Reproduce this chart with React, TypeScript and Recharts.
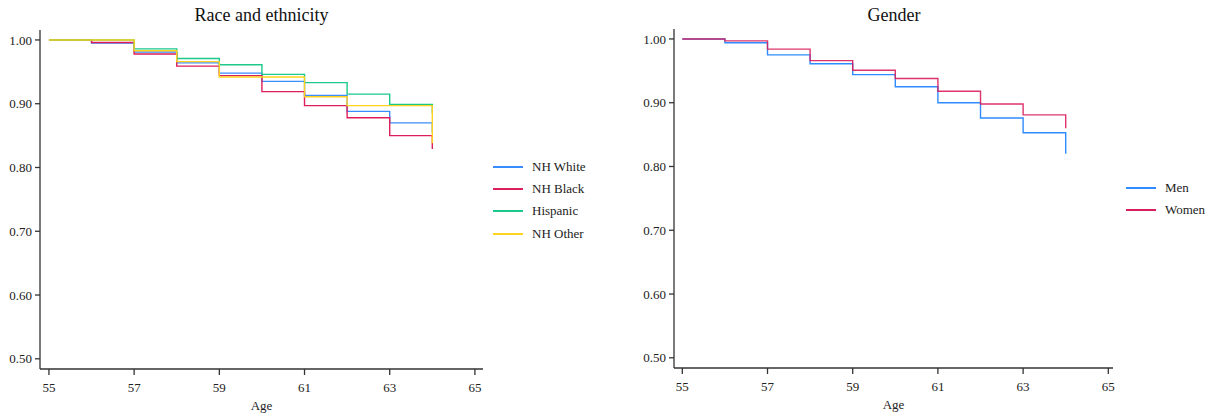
import React from "react";
import { LineChart, Line, XAxis, YAxis, Legend } from "recharts";

const ages = [55, 56, 57, 58, 59, 60, 61, 62, 63, 64];

const nhWhite = [1.0, 0.995, 0.981, 0.964, 0.948, 0.935, 0.913, 0.888, 0.87, 0.855];
const nhBlack = [1.0, 0.996, 0.978, 0.959, 0.944, 0.919, 0.897, 0.878, 0.85, 0.829];
const hispanic = [1.0, 1.0, 0.986, 0.971, 0.961, 0.946, 0.933, 0.915, 0.899, 0.885];
const nhOther = [1.0, 1.0, 0.983, 0.966, 0.942, 0.942, 0.911, 0.897, 0.897, 0.838];

const men = [1.0, 0.994, 0.975, 0.961, 0.944, 0.925, 0.9, 0.876, 0.853, 0.82];
const women = [1.0, 0.997, 0.984, 0.966, 0.951, 0.938, 0.918, 0.898, 0.881, 0.86];

const raceNames = ["NH White", "NH Black", "Hispanic", "NH Other"];
const genderNames = ["Men", "Women"];

const xTicks = [55, 57, 59, 61, 63, 65];
const yTicks = [0.5, 0.6, 0.7, 0.8, 0.9, 1.0];

const raceData = ages.map((age, i) => ({
  age,
  white: nhWhite[i],
  black: nhBlack[i],
  hispanic: hispanic[i],
  other: nhOther[i],
}));

const genderData = ages.map((age, i) => ({ age, men: men[i], women: women[i] }));

const FONT = '"Liberation Serif", "Times New Roman", Times, serif';
const AXIS = "#333";
const tickStyle = { fill: "#222", fontSize: 13, fontFamily: FONT, style: { fontFamily: FONT } };

function LegendBox({ payload, rowH, order }: any) {
  const items = [...(payload || [])].sort(
    (a: any, b: any) => order.indexOf(a.value) - order.indexOf(b.value)
  );
  return (
    <div style={{ fontFamily: FONT, fontSize: 13, color: "#222" }}>
      {items.map((p: any) => (
        <div key={p.value} style={{ display: "flex", alignItems: "center", height: rowH, fontFamily: FONT }}>
          <svg width={30} height={4} style={{ marginRight: 9 }}>
            <line x1={0} y1={2} x2={30} y2={2} stroke={p.color} strokeWidth={2} />
          </svg>
          <span style={{ fontFamily: FONT }}>{p.value}</span>
        </div>
      ))}
    </div>
  );
}

function Title({ text, center }: { text: string; center: number }) {
  return (
    <div
      style={{
        position: "absolute",
        left: center - 150,
        width: 300,
        top: 5.5,
        textAlign: "center",
        fontFamily: FONT,
        fontSize: 18,
        lineHeight: "18px",
        color: "#111",
      }}
    >
      {text}
    </div>
  );
}

function axes(domainX: [number, number], yWidth: number) {
  return [
    <XAxis
      key="x"
      dataKey="age"
      type="number"
      domain={domainX}
      ticks={xTicks}
      allowDataOverflow
      height={50}
      tickSize={6}
      tickMargin={8}
      tick={tickStyle}
      axisLine={{ stroke: AXIS, strokeWidth: 1.3 }}
      tickLine={{ stroke: AXIS, strokeWidth: 1.3 }}
      label={{
        value: "Age",
        position: "insideBottom",
        offset: 9,
        fill: "#222",
        fontSize: 13,
        fontFamily: FONT,
        style: { fontFamily: FONT },
      }}
    />,
    <YAxis
      key="y"
      type="number"
      domain={[0.484, 1.0156]}
      ticks={yTicks}
      allowDataOverflow
      width={yWidth}
      tickSize={5}
      tickMargin={3}
      tick={tickStyle}
      tickFormatter={(v: number) => v.toFixed(2)}
      axisLine={{ stroke: AXIS, strokeWidth: 1.3 }}
      tickLine={{ stroke: AXIS, strokeWidth: 1.3 }}
    />,
  ];
}

const lineProps = {
  type: "stepAfter" as const,
  dot: false,
  activeDot: false,
  strokeWidth: 1.4,
  isAnimationActive: false,
};

export default function App() {
  return (
    <div
      style={{
        position: "absolute",
        left: 0,
        top: 0,
        width: 1210,
        height: 419,
        background: "#fff",
        fontFamily: FONT,
      }}
    >
      <Title text="Race and ethnicity" center={261.5} />
      <Title text="Gender" center={894} />

      <div style={{ position: "absolute", left: 0, top: 0 }}>
        <LineChart
          width={600}
          height={419}
          data={raceData}
          margin={{ top: 30, right: 7, bottom: 0, left: 0 }}
          style={{ fontFamily: FONT }}
        >
          {axes([54.79, 65.19], 40)}
          <Line {...lineProps} dataKey="white" name="NH White" stroke="#3A8DFF" />
          <Line {...lineProps} dataKey="black" name="NH Black" stroke="#DC1F5A" />
          <Line {...lineProps} dataKey="hispanic" name="Hispanic" stroke="#1CC88A" />
          <Line {...lineProps} dataKey="other" name="NH Other" stroke="#FFD21F" />
          <Legend
            layout="vertical"
            align="right"
            verticalAlign="middle"
            width={110}
            wrapperStyle={{ left: 493, top: 155.5, right: "auto" }}
            content={(props: any) => <LegendBox {...props} rowH={22.3} order={raceNames} />}
          />
        </LineChart>
      </div>

      <div style={{ position: "absolute", left: 620, top: 0 }}>
        <LineChart
          width={590}
          height={419}
          data={genderData}
          margin={{ top: 29, right: 7, bottom: 1, left: 0 }}
          style={{ fontFamily: FONT }}
        >
          {axes([54.805, 65.11], 54)}
          <Line {...lineProps} dataKey="men" name="Men" stroke="#2F8BFF" />
          <Line {...lineProps} dataKey="women" name="Women" stroke="#D81E5B" strokeOpacity={0.9} />
          <Legend
            layout="vertical"
            align="right"
            verticalAlign="middle"
            width={90}
            wrapperStyle={{ left: 506, top: 177.5, right: "auto" }}
            content={(props: any) => <LegendBox {...props} rowH={21.7} order={genderNames} />}
          />
        </LineChart>
      </div>
    </div>
  );
}
